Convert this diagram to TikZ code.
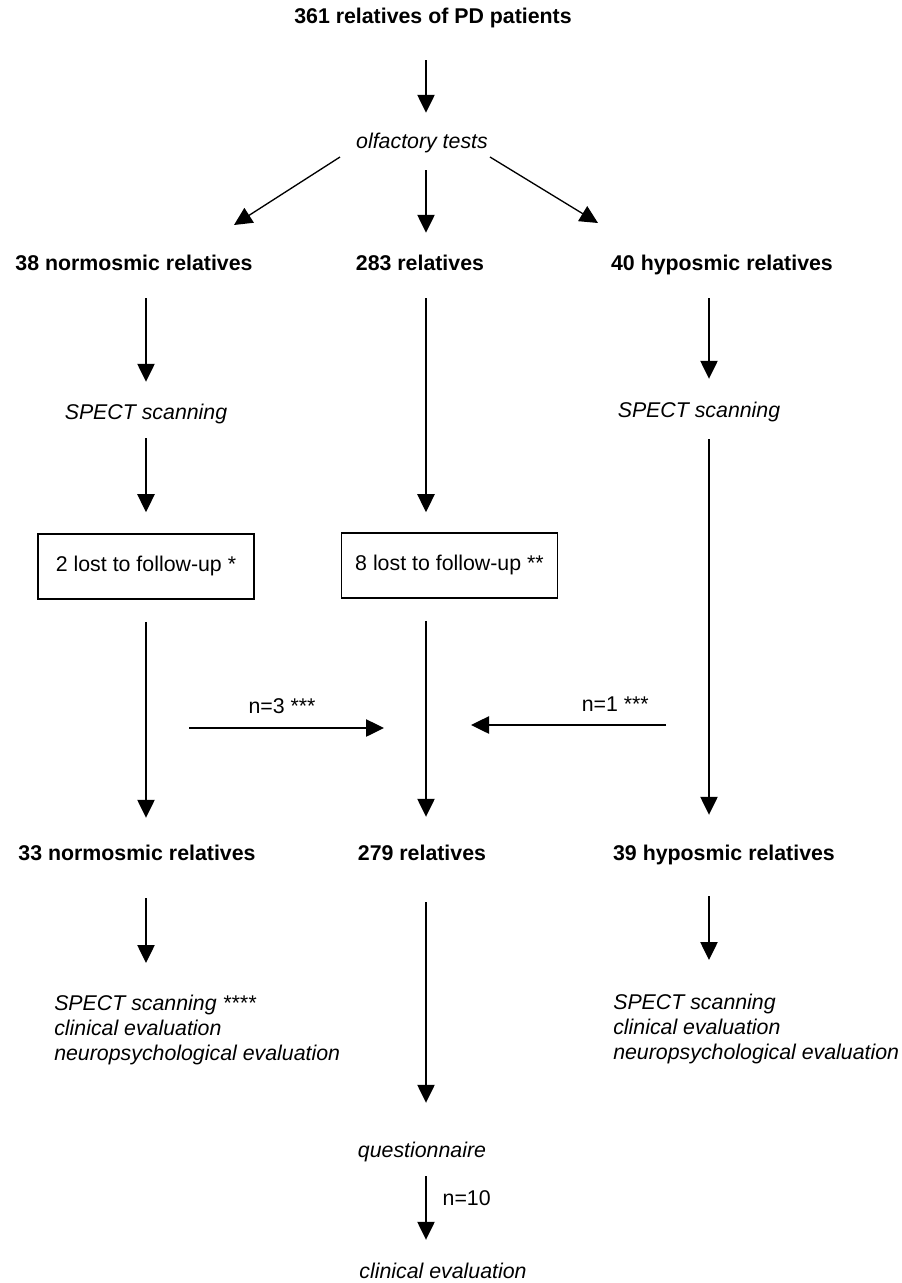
\documentclass[tikz,border=0pt]{standalone}
\usepackage{fontspec}
\setmainfont{Liberation Sans}
\usetikzlibrary{arrows.meta}
\begin{document}
\begin{tikzpicture}[x=0.75pt,y=-0.75pt,
  every node/.style={font=\fontsize{16}{18.75}\selectfont},
  txt/.style={inner sep=0pt,text height=12pt,text depth=4pt},
  bt/.style={txt,font=\fontsize{16}{18.75}\selectfont\bfseries},
  it/.style={txt,font=\fontsize{16}{18.75}\selectfont\itshape},
  blk/.style={inner sep=0pt,align=left,font=\fontsize{16}{18.75}\selectfont\itshape},
  lbox/.style={draw,line width=1.2pt,minimum width=162pt,minimum height=48.75pt,inner sep=0pt,text height=12pt,text depth=4pt},
  arr/.style={line width=1pt,-{Triangle[length=13.5pt,width=13pt]}},
  sa/.style={shorten <=#1*0.75pt},
  sb/.style={shorten >=#1*0.75pt}]
\useasboundingbox (0,0) rectangle (902,1283);
\coordinate (cL) at (146,0);
\coordinate (cM) at (426,0);
\coordinate (cR) at (709,0);
% nodes
\node[bt] (title) at (433,18) {361 relatives of PD patients};
\node[it] (olf) at (422,143) {olfactory tests};
\node[bt] (nL) at (134,265) {38 normosmic relatives};
\node[bt] (nM) at (420,265) {283 relatives};
\node[bt] (nR) at (722,265) {40 hyposmic relatives};
\node[it] (sL) at (146,414) {SPECT scanning};
\node[it] (sR) at (699,412) {SPECT scanning};
\node[lbox] (bL) at (146,566.5) {2 lost to follow-up *};
\node[lbox] (bM) at (449.5,565.5) {8 lost to follow-up **};
\node[bt] (mL) at (137,855) {33 normosmic relatives};
\node[bt] (mM) at (422,855) {279 relatives};
\node[bt] (mR) at (724,855) {39 hyposmic relatives};
\node[blk,anchor=north west] (eL) at (54,995) {SPECT scanning ****\\clinical evaluation\\neuropsychological evaluation};
\node[blk,anchor=north west] (eR) at (613,994) {SPECT scanning\\clinical evaluation\\neuropsychological evaluation};
\node[it] (q) at (422,1152) {questionnaire};
\node[it] (ce) at (443,1273) {clinical evaluation};
% connectors
\draw[arr,sa=31.3,sb=19.3] (title.south -| cM) -- (olf.north -| cM);
\draw[arr] ([shift={(-82,14)}]olf.center) -- ([shift={(100,-40)}]nL.center);
\draw[arr,sa=16.3,sb=21.3] (olf.south -| cM) -- (nM.north -| cM);
\draw[arr] ([shift={(68,14)}]olf.center) -- ([shift={(-124,-42)}]nR.center);
\draw[arr,sa=22.3,sb=21.3] (nL.south -| cL) -- (sL.north -| cL);
\draw[arr,sa=13.3,sb=21] (sL.south -| cL) -- (bL.north -| cL);
\draw[arr,sa=22,sb=26.3] (bL.south -| cL) -- (mL.north -| cL);
\draw[arr,sa=22.3,sb=20] (nM.south -| cM) -- (bM.north -| cM);
\draw[arr,sa=22,sb=27.3] (bM.south -| cM) -- (mM.north -| cM);
\draw[arr,sa=22.3,sb=22.3] (nR.south -| cR) -- (sR.north -| cR);
\draw[arr,sa=16.3,sb=29.3] (sR.south -| cR) -- (mR.north -| cR);
\coordinate (h3a) at (189,728);
\coordinate (h3b) at (384,728);
\draw[arr] (h3a) -- node[txt,pos=0.477,above=6.5pt] (l3) {n=3 ***} (h3b);
\coordinate (h1a) at (666,725);
\coordinate (h1b) at (471,725);
\draw[arr] (h1a) -- node[txt,pos=0.26,above=5.5pt] (l1) {n=1 ***} (h1b);
\draw[arr,sa=32.3,sb=32] (mL.south -| cL) -- (eL.north -| cL);
\draw[arr,sa=36.3,sb=38.3] (mM.south -| cM) -- (q.north -| cM);
\draw[arr,sa=30.3,sb=34] (mR.south -| cR) -- (eR.north -| cR);
\draw[arr,sa=13.3,sb=22.3] (q.south -| cM) -- node[txt,pos=0.375,right=12pt] (l10) {n=10} (ce.north -| cM);
\end{tikzpicture}
\end{document}
